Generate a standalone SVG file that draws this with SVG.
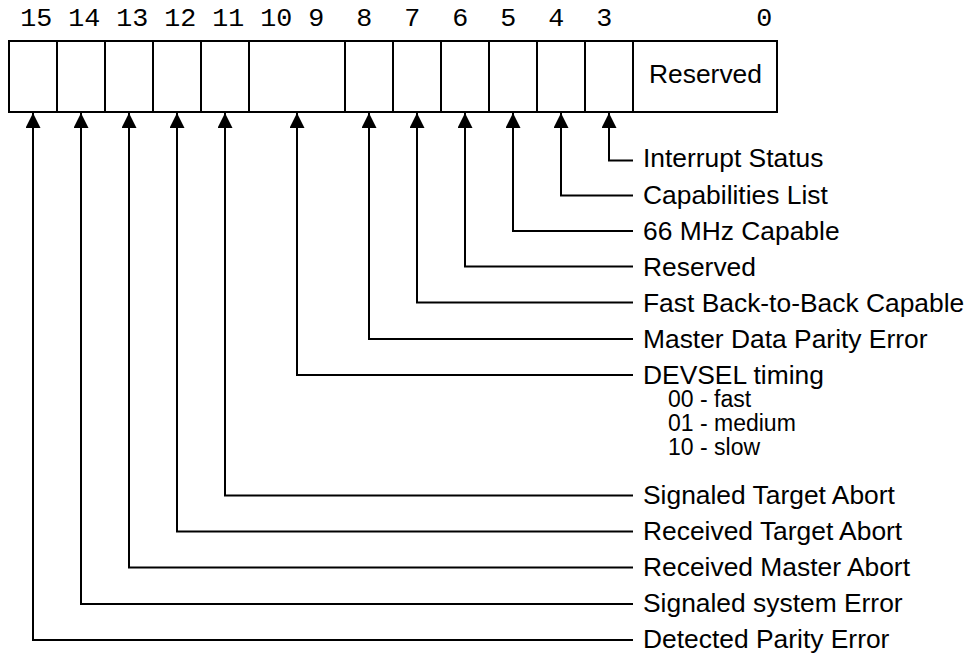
<svg xmlns="http://www.w3.org/2000/svg" width="974" height="653" viewBox="0 0 974 653">
<style>
.bg{fill:#fff}
.cell{fill:#fff;stroke:#000;stroke-width:2}
.div{stroke:#000;stroke-width:2}
.num{font-family:"Liberation Mono","Courier New",monospace;font-size:26.7px;fill:#000;text-anchor:middle}
.lbl{font-family:"Liberation Sans",Arial,sans-serif;font-size:26.4px;fill:#000}
.sub{font-family:"Liberation Sans",Arial,sans-serif;font-size:23px;fill:#000}
.conn{fill:none;stroke:#000;stroke-width:2;marker-start:url(#ah)}
</style>
<defs>
<marker id="ah" viewBox="0 0 15 15" refX="15" refY="7.5" markerWidth="15" markerHeight="15" markerUnits="userSpaceOnUse" orient="auto-start-reverse">
<path d="M0,0 L15,7.5 L0,15 z" fill="#000"/>
</marker>
</defs>
<rect class="bg" x="0" y="0" width="974" height="653"/>
<g id="bit-numbers">
<text class="num" x="36.2" y="26">15</text>
<text class="num" x="84.2" y="26">14</text>
<text class="num" x="132.2" y="26">13</text>
<text class="num" x="180.2" y="26">12</text>
<text class="num" x="228.2" y="26">11</text>
<text class="num" x="276.2" y="26">10</text>
<text class="num" x="316.2" y="26">9</text>
<text class="num" x="364.2" y="26">8</text>
<text class="num" x="412.2" y="26">7</text>
<text class="num" x="460.2" y="26">6</text>
<text class="num" x="508.2" y="26">5</text>
<text class="num" x="556.2" y="26">4</text>
<text class="num" x="604.2" y="26">3</text>
<text class="num" x="764.2" y="26">0</text>
</g>
<g id="register">
<rect class="cell" x="9" y="41" width="768" height="71"/>
<line class="div" x1="57" y1="41" x2="57" y2="112"/>
<line class="div" x1="105" y1="41" x2="105" y2="112"/>
<line class="div" x1="153" y1="41" x2="153" y2="112"/>
<line class="div" x1="201" y1="41" x2="201" y2="112"/>
<line class="div" x1="249" y1="41" x2="249" y2="112"/>
<line class="div" x1="345" y1="41" x2="345" y2="112"/>
<line class="div" x1="393" y1="41" x2="393" y2="112"/>
<line class="div" x1="441" y1="41" x2="441" y2="112"/>
<line class="div" x1="489" y1="41" x2="489" y2="112"/>
<line class="div" x1="537" y1="41" x2="537" y2="112"/>
<line class="div" x1="585" y1="41" x2="585" y2="112"/>
<line class="div" x1="633" y1="41" x2="633" y2="112"/>
<text class="lbl" x="705.5" y="83.3" text-anchor="middle">Reserved</text>
</g>
<g id="connectors">
<path class="conn" d="M609,113 V160.5 H633"/>
<path class="conn" d="M561,113 V195.5 H633"/>
<path class="conn" d="M513,113 V231 H633"/>
<path class="conn" d="M465,113 V266.5 H633"/>
<path class="conn" d="M417,113 V302.5 H633"/>
<path class="conn" d="M369,113 V339 H633"/>
<path class="conn" d="M297,113 V375 H633"/>
<path class="conn" d="M225,113 V495.5 H633"/>
<path class="conn" d="M177,113 V531.5 H633"/>
<path class="conn" d="M129,113 V567.5 H633"/>
<path class="conn" d="M81,113 V604 H633"/>
<path class="conn" d="M33,113 V640 H633"/>
</g>
<g id="lbl-bit3"><text class="lbl" x="643" y="167">Interrupt Status</text></g>
<g id="lbl-bit4"><text class="lbl" x="643" y="204">Capabilities List</text></g>
<g id="lbl-bit5"><text class="lbl" x="643" y="240">66 MHz Capable</text></g>
<g id="lbl-bit6"><text class="lbl" x="643" y="276">Reserved</text></g>
<g id="lbl-bit7"><text class="lbl" x="643" y="311.5">Fast Back-to-Back Capable</text></g>
<g id="lbl-bit8"><text class="lbl" x="643" y="348">Master Data Parity Error</text></g>
<g id="lbl-bit9-10">
<text class="lbl" x="643" y="384">DEVSEL timing</text>
<text class="sub" x="668" y="406.5">00 - fast</text>
<text class="sub" x="668" y="430.5">01 - medium</text>
<text class="sub" x="668" y="454.5">10 - slow</text>
</g>
<g id="lbl-bit11"><text class="lbl" x="643" y="504">Signaled Target Abort</text></g>
<g id="lbl-bit12"><text class="lbl" x="643" y="540">Received Target Abort</text></g>
<g id="lbl-bit13"><text class="lbl" x="643" y="576">Received Master Abort</text></g>
<g id="lbl-bit14"><text class="lbl" x="643" y="612">Signaled system Error</text></g>
<g id="lbl-bit15"><text class="lbl" x="643" y="648">Detected Parity Error</text></g>
</svg>
